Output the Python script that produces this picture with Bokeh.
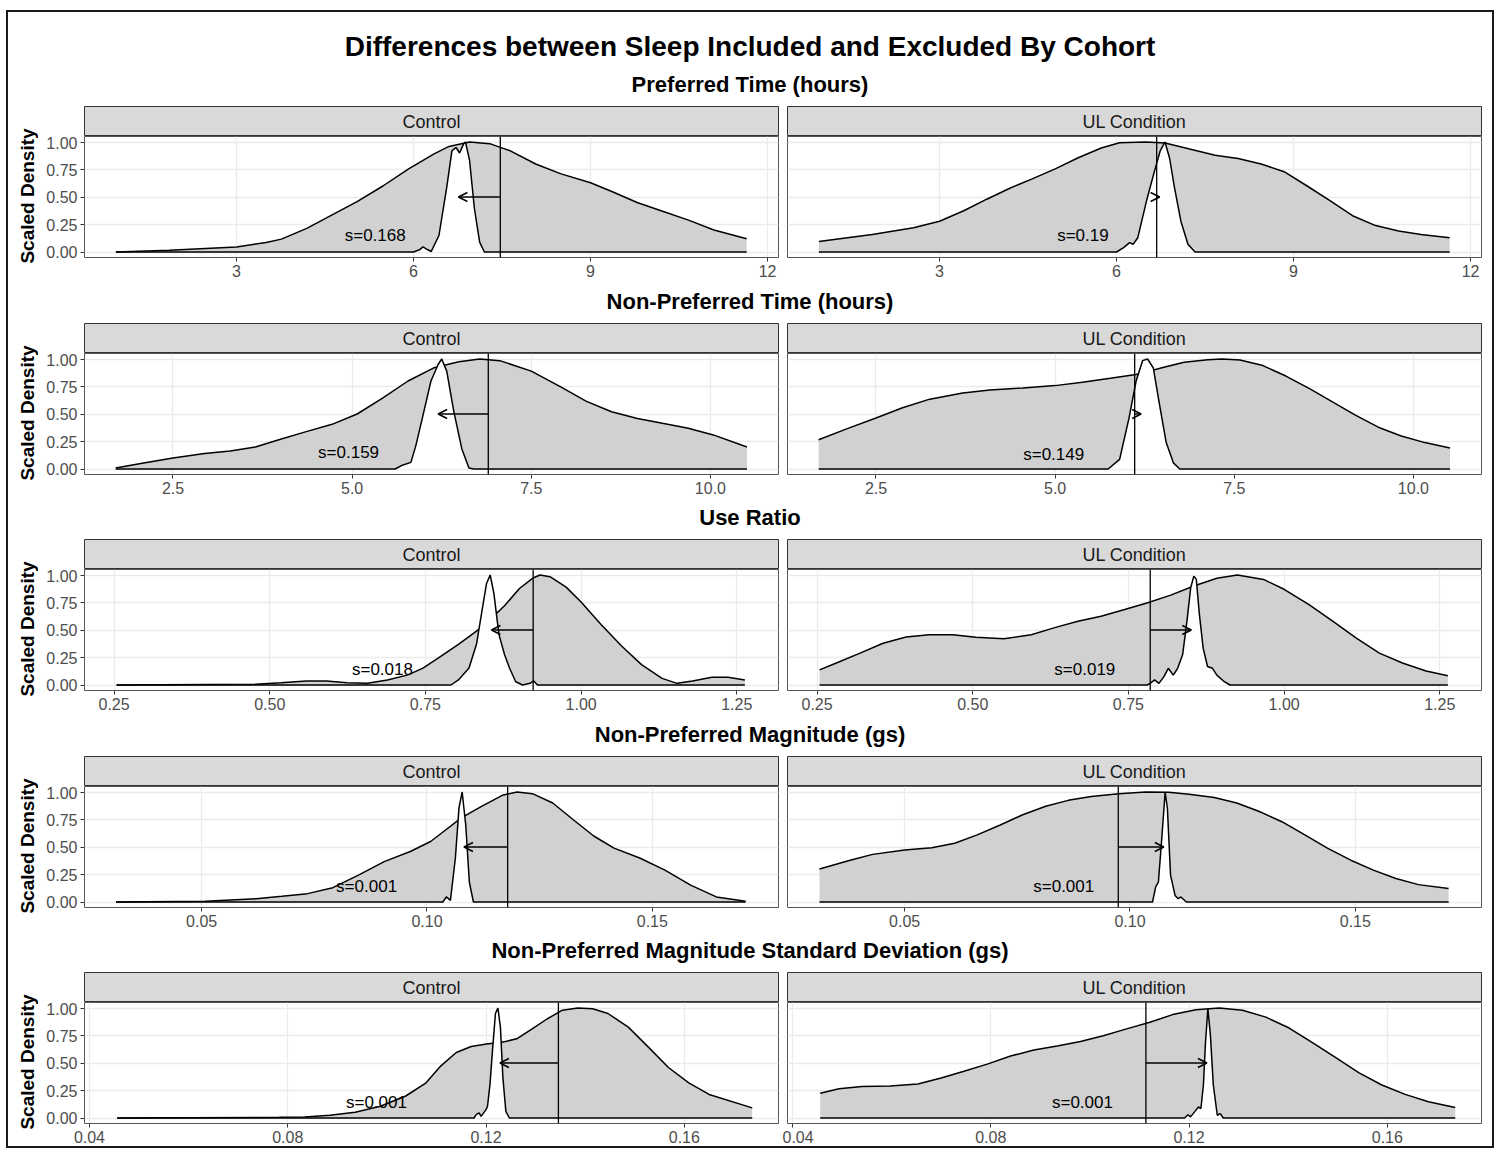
from bokeh.plotting import figure
from bokeh.models import Range1d, FixedTicker, Span, Arrow, OpenHead, Div
from bokeh.layouts import column, row
from bokeh.embed import file_html
from bokeh.resources import INLINE
from bokeh.core.properties import value
import math

FONT = "Liberation Sans"

# ---------------- data ----------------
title_text = "Differences between Sleep Included and Excluded By Cohort"
row_titles = ["Preferred Time (hours)", "Non-Preferred Time (hours)", "Use Ratio",
              "Non-Preferred Magnitude (gs)", "Non-Preferred Magnitude Standard Deviation (gs)"]
cohorts = ["Control", "UL Condition"]
y_title = "Scaled Density"

x_ranges = [(0.423, 12.185), (1.265, 10.95), (0.2025, 1.317), (0.024, 0.178), (0.039, 0.179)]
x_ticks = [[3, 6, 9, 12], [2.5, 5.0, 7.5, 10.0], [0.25, 0.5, 0.75, 1.0, 1.25],
           [0.05, 0.10, 0.15], [0.04, 0.08, 0.12, 0.16]]
x_tick_labels = [["3", "6", "9", "12"], ["2.5", "5.0", "7.5", "10.0"],
                 ["0.25", "0.50", "0.75", "1.00", "1.25"], ["0.05", "0.10", "0.15"],
                 ["0.04", "0.08", "0.12", "0.16"]]
y_ticks = [0, 0.25, 0.5, 0.75, 1.0]
y_tick_labels = ["0.00", "0.25", "0.50", "0.75", "1.00"]

# Row 1: Preferred Time
pt_ctrl_wide_x = [0.955, 1.86, 3.0, 3.5, 3.76, 4.19, 4.62, 5.05, 5.48, 5.91, 6.34, 6.6, 6.95, 7.29,
                  7.64, 8.07, 8.5, 9.0, 9.36, 9.79, 10.22, 10.66, 11.09, 11.645]
pt_ctrl_wide_y = [0.0, 0.015, 0.046, 0.086, 0.117, 0.215, 0.338, 0.46, 0.6, 0.754, 0.89, 0.96, 1.0, 0.985,
                  0.92, 0.80, 0.71, 0.63, 0.55, 0.45, 0.37, 0.29, 0.2, 0.12]
pt_ctrl_narrow_x = [0.955, 6.0, 6.1, 6.16, 6.24, 6.3, 6.43, 6.56, 6.65, 6.72, 6.78, 6.85, 6.88, 6.95,
                    7.03, 7.12, 7.2, 11.645]
pt_ctrl_narrow_y = [0, 0, 0.02, 0.046, 0.02, 0.005, 0.15, 0.58, 0.92, 0.95, 0.9, 0.985, 1.0, 0.83,
                    0.4, 0.09, 0.0, 0]
pt_ul_wide_x = [0.955, 1.86, 2.56, 3.0, 3.41, 3.8, 4.19, 4.57, 4.96, 5.35, 5.74, 6.05, 6.5, 6.82, 7.29,
                7.67, 8.06, 8.45, 8.84, 9.23, 9.61, 10.0, 10.39, 10.78, 11.16, 11.645]
pt_ul_wide_y = [0.095, 0.16, 0.22, 0.28, 0.375, 0.48, 0.58, 0.665, 0.756, 0.857, 0.945, 0.994, 1.0, 0.99,
                0.93, 0.88, 0.85, 0.80, 0.73, 0.60, 0.47, 0.33, 0.24, 0.19, 0.16, 0.13]
pt_ul_narrow_x = [0.955, 6.0, 6.12, 6.22, 6.28, 6.36, 6.51, 6.63, 6.74, 6.82, 6.9, 6.98, 7.09, 7.21,
                  7.33, 11.645]
pt_ul_narrow_y = [0, 0, 0.04, 0.085, 0.07, 0.13, 0.47, 0.71, 0.92, 1.0, 0.85, 0.59, 0.28, 0.07, 0, 0]

# Row 2: Non-Preferred Time
npt_ctrl_wide_x = [1.70, 2.09, 2.5, 2.94, 3.3, 3.65, 4.0, 4.36, 4.72, 5.07, 5.43, 5.78, 6.14, 6.49,
                   6.78, 7.06, 7.5, 7.93, 8.27, 8.62, 8.98, 9.33, 9.69, 10.04, 10.51]
npt_ctrl_wide_y = [0.01, 0.055, 0.10, 0.14, 0.163, 0.2, 0.27, 0.34, 0.406, 0.50, 0.646, 0.8, 0.92, 0.975,
                   1.0, 0.985, 0.89, 0.74, 0.615, 0.52, 0.46, 0.415, 0.37, 0.31, 0.2]
npt_ctrl_narrow_x = [1.70, 5.6, 5.71, 5.82, 5.89, 6.0, 6.1, 6.2, 6.25, 6.32, 6.42, 6.53, 6.63, 6.7, 10.51]
npt_ctrl_narrow_y = [0, 0, 0.037, 0.06, 0.215, 0.52, 0.8, 0.95, 1.0, 0.89, 0.52, 0.185, 0.01, 0, 0]
npt_ul_wide_x = [1.70, 2.09, 2.5, 2.87, 3.25, 3.71, 4.09, 4.55, 5.0, 5.38, 5.77, 6.13, 6.29, 6.49, 6.8,
                 7.13, 7.33, 7.58, 7.9, 8.22, 8.55, 8.87, 9.19, 9.51, 9.83, 10.16, 10.51]
npt_ul_wide_y = [0.266, 0.365, 0.464, 0.557, 0.635, 0.69, 0.718, 0.737, 0.758, 0.789, 0.824, 0.86, 0.885,
                 0.92, 0.97, 0.994, 1.0, 0.99, 0.94, 0.845, 0.73, 0.61, 0.49, 0.38, 0.30, 0.24, 0.19]
npt_ul_narrow_x = [1.70, 5.74, 5.9, 6.03, 6.13, 6.22, 6.29, 6.37, 6.45, 6.55, 6.65, 6.74, 10.51]
npt_ul_narrow_y = [0, 0, 0.087, 0.46, 0.8, 0.985, 1.0, 0.92, 0.61, 0.24, 0.056, 0, 0]

# Row 3: Use Ratio
ur_ctrl_wide_x = [0.254, 0.477, 0.518, 0.559, 0.591, 0.624, 0.657, 0.689, 0.722, 0.746, 0.771, 0.803,
                  0.832, 0.852, 0.877, 0.901, 0.922, 0.934, 0.95, 0.976, 1.0, 1.032, 1.065, 1.097, 1.13,
                  1.154, 1.179, 1.21, 1.236, 1.263]
ur_ctrl_wide_y = [0.0, 0.006, 0.02, 0.037, 0.037, 0.02, 0.015, 0.046, 0.092, 0.154, 0.246, 0.37, 0.49,
                  0.585, 0.72, 0.877, 0.97, 1.0, 0.985, 0.89, 0.754, 0.55, 0.354, 0.185, 0.06, 0.015,
                  0.037, 0.07, 0.07, 0.046]
ur_ctrl_narrow_x = [0.254, 0.791, 0.803, 0.82, 0.832, 0.84, 0.848, 0.854, 0.86, 0.868, 0.877, 0.885,
                    0.895, 0.906, 0.918, 0.924, 0.93, 1.263]
ur_ctrl_narrow_y = [0, 0, 0.046, 0.154, 0.37, 0.646, 0.92, 1.0, 0.83, 0.46, 0.277, 0.154, 0.03, 0,
                    0.015, 0.037, 0, 0]
ur_ul_wide_x = [0.254, 0.281, 0.319, 0.356, 0.393, 0.43, 0.468, 0.505, 0.55, 0.594, 0.633, 0.669, 0.706,
                0.744, 0.781, 0.818, 0.855, 0.892, 0.925, 0.967, 1.0, 1.04, 1.078, 1.116, 1.153, 1.19,
                1.228, 1.263]
ur_ul_wide_y = [0.137, 0.2, 0.29, 0.38, 0.436, 0.457, 0.457, 0.433, 0.42, 0.457, 0.524, 0.58, 0.625,
                0.686, 0.747, 0.817, 0.9, 0.97, 1.0, 0.96, 0.87, 0.73, 0.58, 0.427, 0.29, 0.2, 0.128, 0.085]
ur_ul_narrow_x = [0.254, 0.78, 0.785, 0.792, 0.799, 0.807, 0.814, 0.822, 0.829, 0.837, 0.844, 0.85,
                  0.855, 0.859, 0.864, 0.87, 0.877, 0.885, 0.892, 0.904, 0.913, 1.263]
ur_ul_narrow_y = [0, 0, 0.015, 0.046, 0.015, 0.076, 0.152, 0.09, 0.152, 0.274, 0.58, 0.884, 0.99, 0.96,
                  0.64, 0.335, 0.168, 0.152, 0.09, 0.03, 0, 0]

# Row 4: Non-Preferred Magnitude
npm_ctrl_wide_x = [0.031, 0.0508, 0.0621, 0.0678, 0.0735, 0.0791, 0.0848, 0.0905, 0.0963, 0.1008,
                   0.1042, 0.1076, 0.1121, 0.1167, 0.120, 0.1234, 0.1279, 0.1324, 0.137, 0.1415, 0.1472,
                   0.1528, 0.1585, 0.1642, 0.1707]
npm_ctrl_wide_y = [0, 0.006, 0.03, 0.052, 0.076, 0.13, 0.245, 0.367, 0.459, 0.55, 0.657, 0.765, 0.87,
                   0.97, 1.0, 0.985, 0.9, 0.75, 0.6, 0.49, 0.4, 0.29, 0.153, 0.046, 0.006]
npm_ctrl_narrow_x = [0.031, 0.1035, 0.1043, 0.1052, 0.1063, 0.1071, 0.1078, 0.1086, 0.1094, 0.1103, 0.1707]
npm_ctrl_narrow_y = [0, 0, 0.046, 0.015, 0.4, 0.856, 1.0, 0.7, 0.18, 0, 0]
npm_ul_wide_x = [0.0311, 0.0379, 0.0429, 0.05, 0.056, 0.0611, 0.0661, 0.0712, 0.0762, 0.0813, 0.0863,
                 0.0914, 0.0975, 0.1035, 0.1086, 0.1131, 0.1187, 0.1237, 0.1287, 0.1337, 0.1388, 0.1438,
                 0.149, 0.154, 0.159, 0.164, 0.1707]
npm_ul_wide_y = [0.3, 0.38, 0.433, 0.473, 0.494, 0.534, 0.61, 0.7, 0.793, 0.87, 0.924, 0.96, 0.985, 1.0,
                 0.997, 0.98, 0.95, 0.9, 0.823, 0.73, 0.61, 0.49, 0.38, 0.29, 0.213, 0.158, 0.122]
npm_ul_narrow_x = [0.0311, 0.105, 0.1057, 0.1063, 0.107, 0.1078, 0.1083, 0.109, 0.110, 0.1107, 0.1113,
                   0.1125, 0.1707]
npm_ul_narrow_y = [0, 0, 0.137, 0.18, 0.55, 1.0, 0.85, 0.244, 0.06, 0.03, 0.046, 0, 0]

# Row 5: Non-Preferred Magnitude SD
nps_ctrl_wide_x = [0.0456, 0.0783, 0.0834, 0.0885, 0.0936, 0.0987, 0.1038, 0.1079, 0.1109, 0.114, 0.117,
                   0.1201, 0.1232, 0.1262, 0.1293, 0.1323, 0.1354, 0.1385, 0.1415, 0.1446, 0.1487,
                   0.1528, 0.1568, 0.1609, 0.165, 0.1737]
nps_ctrl_wide_y = [0, 0.006, 0.009, 0.024, 0.052, 0.107, 0.2, 0.32, 0.474, 0.596, 0.65, 0.673, 0.688,
                   0.72, 0.81, 0.9, 0.98, 1.0, 0.994, 0.95, 0.826, 0.642, 0.459, 0.32, 0.214, 0.092]
nps_ctrl_narrow_x = [0.0456, 0.1176, 0.118, 0.1186, 0.119, 0.12, 0.1203, 0.1208, 0.1213, 0.1219, 0.1224,
                     0.1229, 0.1234, 0.124, 0.1247, 0.1737]
nps_ctrl_narrow_y = [0, 0, 0.03, 0.046, 0.015, 0.076, 0.107, 0.306, 0.612, 0.95, 1.0, 0.826, 0.367,
                     0.06, 0, 0]
nps_ul_wide_x = [0.0456, 0.0494, 0.054, 0.0597, 0.0653, 0.07, 0.0746, 0.0793, 0.084, 0.0887, 0.0934,
                 0.0981, 0.1027, 0.1074, 0.1121, 0.1167, 0.1214, 0.1261, 0.1308, 0.1355, 0.1402, 0.1449,
                 0.1496, 0.1543, 0.1589, 0.1636, 0.1683, 0.1737]
nps_ul_wide_y = [0.225, 0.265, 0.286, 0.292, 0.31, 0.363, 0.425, 0.49, 0.563, 0.618, 0.655, 0.695, 0.748,
                 0.81, 0.87, 0.94, 0.985, 1.0, 0.98, 0.917, 0.818, 0.686, 0.548, 0.41, 0.3, 0.215, 0.148,
                 0.095]
nps_ul_narrow_x = [0.0456, 0.1191, 0.1198, 0.1203, 0.1212, 0.1219, 0.1224, 0.1229, 0.1233, 0.1238,
                   0.1243, 0.1249, 0.1257, 0.1263, 0.1269, 0.1737]
nps_ul_narrow_y = [0, 0, 0.03, 0.01, 0.06, 0.1, 0.086, 0.3, 0.67, 0.994, 0.76, 0.3, 0.025, 0.04, 0, 0]

# vertical reference lines, arrow targets, annotation labels  [row][cohort]
vlines = [[7.47, 6.68], [6.9, 6.11], [0.923, 0.785], [0.1179, 0.0974], [0.1346, 0.1113]]
arrow_to = [[6.76, 6.73], [6.2, 6.2], [0.856, 0.851], [0.1082, 0.1075], [0.1228, 0.1236]]
arrow_y = 0.5
s_labels = [["s=0.168", "s=0.19"], ["s=0.159", "s=0.149"], ["s=0.018", "s=0.019"],
            ["s=0.001", "s=0.001"], ["s=0.001", "s=0.001"]]
s_label_x = [[5.35, 5.43], [4.95, 4.98], [0.681, 0.68], [0.0866, 0.0853], [0.0979, 0.0985]]
s_label_y = [[0.15, 0.146], [0.147, 0.135], [0.145, 0.14], [0.14, 0.14], [0.14, 0.14]]

curves = [
    [(pt_ctrl_wide_x, pt_ctrl_wide_y, pt_ctrl_narrow_x, pt_ctrl_narrow_y),
     (pt_ul_wide_x, pt_ul_wide_y, pt_ul_narrow_x, pt_ul_narrow_y)],
    [(npt_ctrl_wide_x, npt_ctrl_wide_y, npt_ctrl_narrow_x, npt_ctrl_narrow_y),
     (npt_ul_wide_x, npt_ul_wide_y, npt_ul_narrow_x, npt_ul_narrow_y)],
    [(ur_ctrl_wide_x, ur_ctrl_wide_y, ur_ctrl_narrow_x, ur_ctrl_narrow_y),
     (ur_ul_wide_x, ur_ul_wide_y, ur_ul_narrow_x, ur_ul_narrow_y)],
    [(npm_ctrl_wide_x, npm_ctrl_wide_y, npm_ctrl_narrow_x, npm_ctrl_narrow_y),
     (npm_ul_wide_x, npm_ul_wide_y, npm_ul_narrow_x, npm_ul_narrow_y)],
    [(nps_ctrl_wide_x, nps_ctrl_wide_y, nps_ctrl_narrow_x, nps_ctrl_narrow_y),
     (nps_ul_wide_x, nps_ul_wide_y, nps_ul_narrow_x, nps_ul_narrow_y)],
]

# ---------------- layout constants ----------------
INNER_W = 1484
LABEL_W = 30
FRAME_W = 694
STRIP_H = 30
PANEL_H = 121
LEFT_BORDER = [46, 5]
RIGHT_BORDER = [4, 11]
BOTTOM_BORDER = [32, 31, 32, 31, 23]


def make_ylabel(r):
    h = STRIP_H + PANEL_H + BOTTOM_BORDER[r]
    f = figure(width=LABEL_W, height=h, x_range=Range1d(0, LABEL_W), y_range=Range1d(0, h),
               output_backend="svg", toolbar_location=None, x_axis_location=None, y_axis_location=None,
               min_border=0, outline_line_color=None)
    f.xgrid.visible = False
    f.ygrid.visible = False
    f.text(x=[19], y=[BOTTOM_BORDER[r] + PANEL_H / 2 + 1], text=[y_title], angle=math.pi / 2,
           text_align="center", text_baseline="middle", text_font=value(FONT),
           text_font_size="19px", text_font_style="bold", text_color="black")
    return f


def make_strip(c):
    s = figure(frame_width=FRAME_W, frame_height=STRIP_H, x_range=Range1d(0, 1), y_range=Range1d(0, 1),
               output_backend="svg", toolbar_location=None, x_axis_location=None, y_axis_location=None,
               min_border_left=LEFT_BORDER[c], min_border_right=RIGHT_BORDER[c],
               min_border_top=0, min_border_bottom=0,
               background_fill_color="#d9d9d9", outline_line_color="#333333", outline_line_width=1)
    s.xgrid.visible = False
    s.ygrid.visible = False
    s.text(x=[0.5], y=[0.5], text=[cohorts[c]], text_align="center", text_baseline="middle",
           text_font=value(FONT), text_font_size="18px", text_color="#1a1a1a")
    return s


def make_panel(r, c):
    left = c == 0
    p = figure(frame_width=FRAME_W, frame_height=PANEL_H,
               x_range=Range1d(*x_ranges[r]), y_range=Range1d(-0.05, 1.05),
               output_backend="svg", toolbar_location=None,
               y_axis_location="left" if left else None,
               min_border_left=LEFT_BORDER[c], min_border_right=RIGHT_BORDER[c],
               min_border_top=0, min_border_bottom=BOTTOM_BORDER[r],
               background_fill_color="white", outline_line_color="#555555", outline_line_width=1)
    xt = FixedTicker(ticks=x_ticks[r])
    yt = FixedTicker(ticks=y_ticks)
    p.xaxis.ticker = xt
    p.xaxis.major_label_overrides = dict(zip(x_ticks[r], x_tick_labels[r]))
    for g in p.xgrid:
        g.ticker = xt
    for g in p.ygrid:
        g.ticker = yt
    p.grid.grid_line_color = "#ebebeb"
    p.grid.grid_line_width = 1.3
    axes = list(p.xaxis) + (list(p.yaxis) if left else [])
    for ax in axes:
        ax.axis_line_color = None
        ax.major_tick_line_color = "#333333"
        ax.major_tick_out = 4
        ax.major_tick_in = 0
        ax.minor_tick_line_color = None
        ax.major_label_text_color = "#4d4d4d"
        ax.major_label_text_font = FONT
        ax.major_label_text_font_size = "16px"
        ax.major_label_standoff = 3
    if left:
        p.yaxis.ticker = yt
        p.yaxis.major_label_overrides = dict(zip(y_ticks, y_tick_labels))

    wx, wy, nx, ny = curves[r][c]
    p.varea(x=wx, y1=0, y2=wy, fill_color="#d1d1d1")
    p.line(wx, wy, line_color="black", line_width=1.5)
    p.varea(x=nx, y1=0, y2=ny, fill_color="white")
    p.line(nx, ny, line_color="black", line_width=1.5)

    p.add_layout(Span(location=vlines[r][c], dimension="height", line_color="black", line_width=1.3))
    p.add_layout(Arrow(end=OpenHead(size=9, line_color="black", line_width=1.5),
                       x_start=vlines[r][c], y_start=arrow_y, x_end=arrow_to[r][c], y_end=arrow_y,
                       line_color="black", line_width=1.5))
    p.text(x=[s_label_x[r][c]], y=[s_label_y[r][c]], text=[s_labels[r][c]], text_align="center",
           text_baseline="middle", text_font=value(FONT), text_font_size="17px", text_color="black")
    return p


title_div = Div(text=title_text, width=INNER_W, height=60, margin=0,
                styles={"font-family": FONT, "font-size": "28px", "font-weight": "bold",
                        "text-align": "center", "line-height": "70px", "color": "black"})
blocks = [title_div]
for r in range(5):
    blocks.append(Div(text=row_titles[r], width=INNER_W, height=34, margin=0,
                      styles={"font-family": FONT, "font-size": "22px", "font-weight": "bold",
                              "text-align": "center", "line-height": "26px", "color": "black"}))
    left_col = row(make_ylabel(r), column(make_strip(0), make_panel(r, 0), spacing=0), spacing=0)
    right_col = column(make_strip(1), make_panel(r, 1), spacing=0)
    blocks.append(row(left_col, right_col, spacing=0))

layout = column(*blocks, spacing=0, margin=(12, 0, 0, 8),
                styles={"outline": "2px solid #1a1a1a", "outline-offset": "0px"})

open("out.html", "w").write(file_html(layout, INLINE))
